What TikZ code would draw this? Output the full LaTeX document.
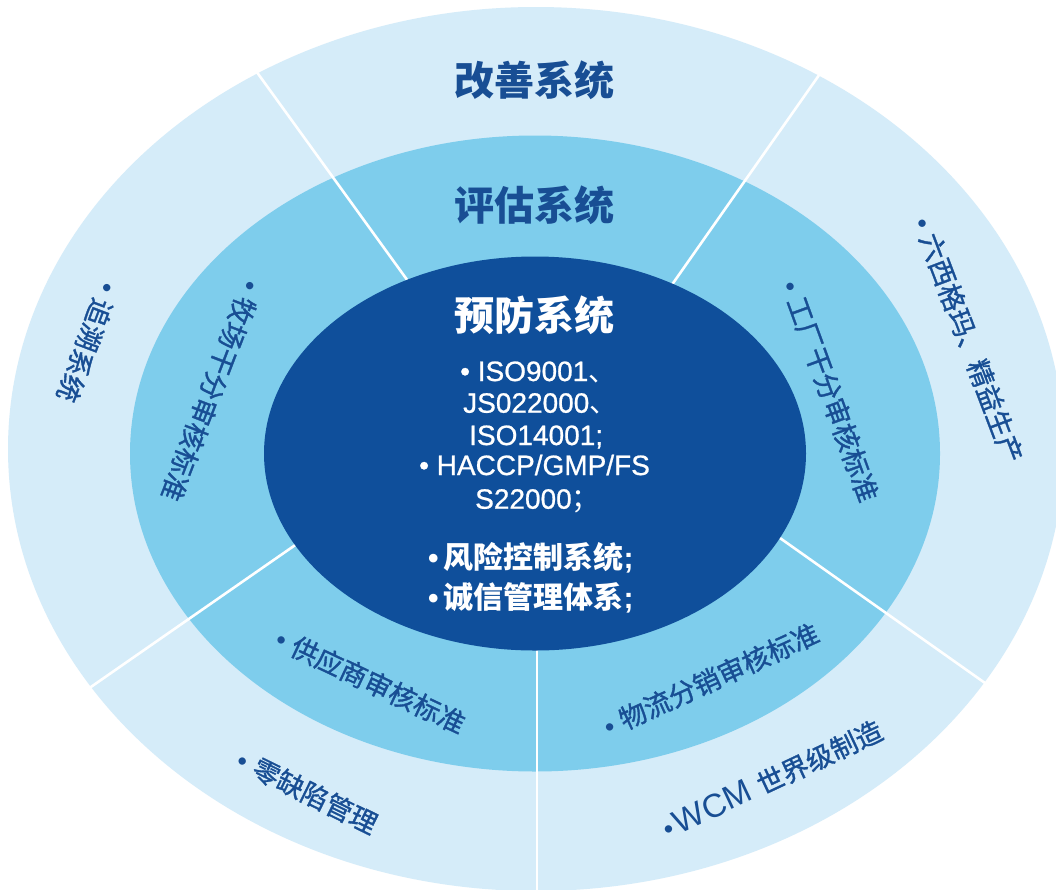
\documentclass[tikz,border=0pt]{standalone}
\usepackage{fontspec}
\setmainfont{Liberation Sans}
\newfontfamily\lat{Liberation Sans}
\newfontfamily\cjk{Noto Sans CJK SC}
\newfontfamily\cjkm{Noto Sans CJK SC}[FakeBold=1.2]
\newfontfamily\latm{Liberation Sans}[FakeBold=0.8]
\definecolor{outerc}{RGB}{213,236,249}
\definecolor{midc}{RGB}{126,205,236}
\definecolor{innerc}{RGB}{15,79,155}
\definecolor{textc}{RGB}{24,78,148}
\newcommand\mybul{{\lat •\ }}
\begin{document}
\begin{tikzpicture}[x=1pt,y=-1pt,
  title/.style={font=\cjk\bfseries\fontsize{40}{40}\selectfont, text=textc, inner sep=0pt},
  ringtext/.style={font=\cjkm\fontsize{27}{27}\selectfont, text=textc, anchor=west, inner sep=0pt},
  centerline/.style={font=\latm\fontsize{28}{28}\selectfont, text=white, anchor=base west, inner sep=0pt},
  centercjk/.style={font=\cjk\bfseries\fontsize{30}{30}\selectfont, text=white, anchor=base west, inner sep=0pt},
  divider/.style={draw=white, line width=2.6pt},
]
\useasboundingbox (0,0) rectangle (1056,889);
\fill[white] (0,0) rectangle (1056,889);
% rings
\fill[outerc] (536,449) ellipse [x radius=528pt, y radius=442pt];
\fill[midc] (535,453.5) ellipse [x radius=405pt, y radius=318pt];
% dividers
\coordinate (d1a) at (460,353);   \coordinate (d1b) at (230,35);
\coordinate (d2a) at (610,373);   \coordinate (d2b) at (850,31);
\coordinate (d3a) at (337,516);   \coordinate (d3b) at (52,714);
\coordinate (d4a) at (729,502);   \coordinate (d4b) at (1026,712);
\coordinate (d5a) at (537,600);   \coordinate (d5b) at (537,900);
\draw[divider] (d1a) -- (d1b);
\draw[divider] (d2a) -- (d2b);
\draw[divider] (d3a) -- (d3b);
\draw[divider] (d4a) -- (d4b);
\draw[divider] (d5a) -- (d5b);
\fill[innerc] (535,453.5) ellipse [x radius=271pt, y radius=197pt];
% titles
\node[title] (gs) at (534,80) {改善系统};
\node[title] (pg) at (534,205) {评估系统};
\node[title, text=white] (yf) at (534,315) {预防系统};
% centre list
\node[centerline] (l1) at (460,381) {• ISO9001{\cjk 、}};
\node[centerline] (l2) at (463,412.7) {JS022000{\cjk 、}};
\node[centerline] (l3) at (469,445) {ISO14001;};
\node[centerline] (l4) at (419,475) {• HACCP/GMP/FS};
\node[centerline] (l5) at (475,508.7) {S22000{\cjk ；}};
\node[centercjk] (l6) at (428,568.7) {{\lat •}\hspace{5pt}风险控制系统{\lat ;}};
\node[centercjk] (l7) at (428,608.7) {{\lat •}\hspace{5pt}诚信管理体系{\lat ;}};
% ring texts
\node[ringtext, rotate=-110.7] (t1) at (110,283.9) {\mybul 追溯系统};
\node[ringtext, rotate=-111] (t2) at (253.4,282.3) {\mybul 牧场干分审核标准};
\node[ringtext, rotate=-70] (t3) at (790.1,281.6) {\mybul 工厂干分审核标准};
\node[ringtext, rotate=-69.3] (t4) at (922.3,218.3) {\mybul 六西格玛、精益生产};
\node[ringtext, rotate=-25.3] (t5) at (277.4,637.3) {\mybul 供应商审核标准};
\node[ringtext, rotate=-26.2] (t6) at (239.1,758.6) {\mybul 零缺陷管理};
\node[ringtext, rotate=24.5] (t7) at (605,728) {\mybul 物流分销审核标准};
\node[ringtext, rotate=25.2] (t8) at (664,830.3) {{\lat •\hspace{3pt}\fontsize{33}{33}\selectfont WCM\ }世界级制造};
\end{tikzpicture}
\end{document}
